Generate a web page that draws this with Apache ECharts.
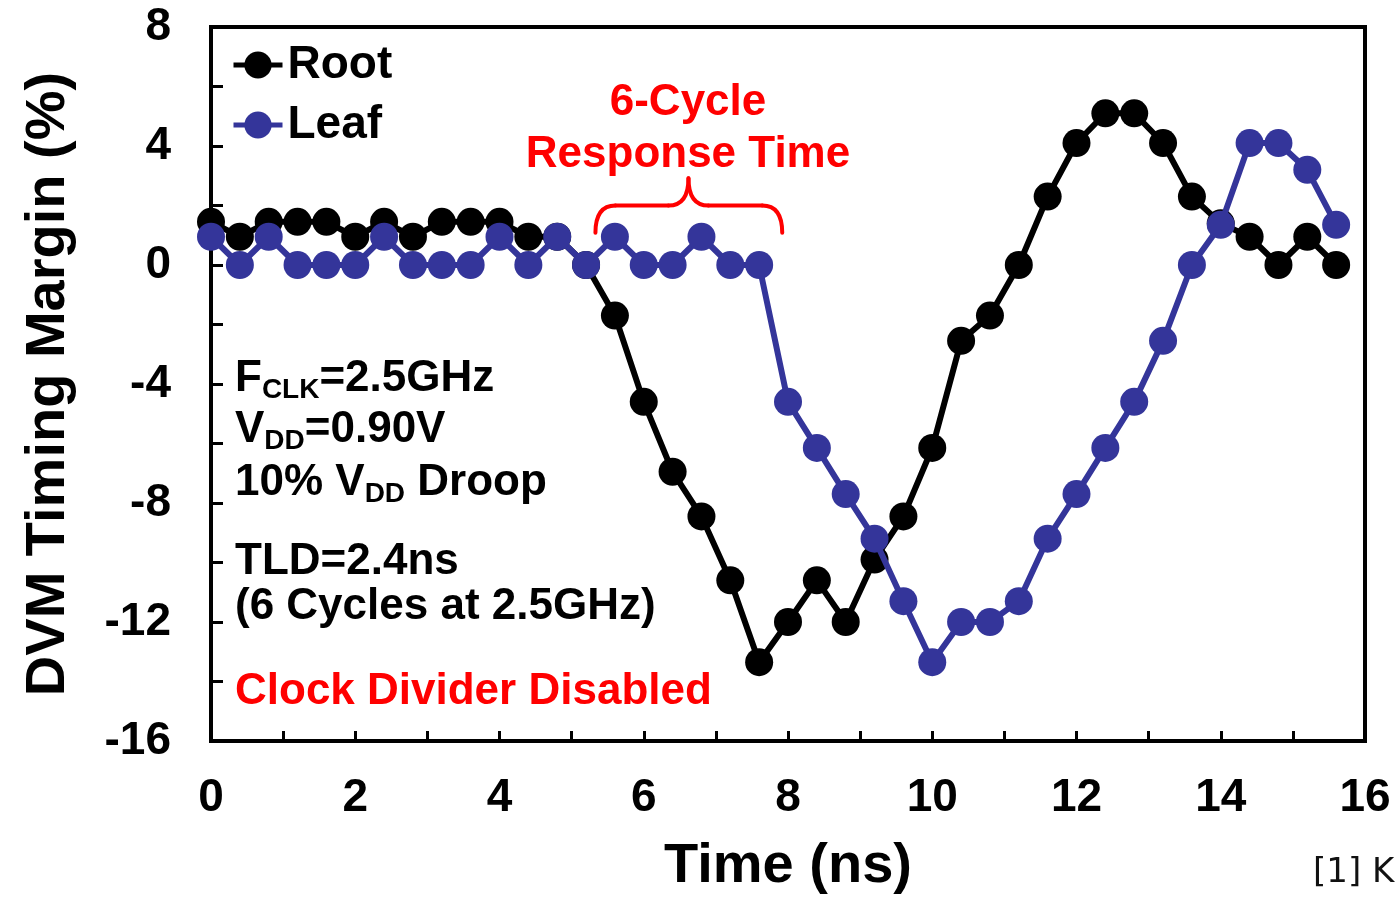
<!DOCTYPE html>
<html>
<head>
<meta charset="utf-8">
<script src="https://cdn.jsdelivr.net/npm/echarts@6/dist/echarts.min.js"></script>
<style>
  html, body { margin: 0; padding: 0; background: #fff; }
  #chart { width: 1399px; height: 897px; }
</style>
</head>
<body>
<div id="chart"></div>
<script>
// Sample times (ns), one sample per 0.4 ns clock cycle at 2.5 GHz
const timeNs = [0, 0.4, 0.8, 1.2, 1.6, 2.0, 2.4, 2.8, 3.2, 3.6,
                4.0, 4.4, 4.8, 5.2, 5.6, 6.0, 6.4, 6.8, 7.2, 7.6,
                8.0, 8.4, 8.8, 9.2, 9.6, 10.0, 10.4, 10.8, 11.2, 11.6,
                12.0, 12.4, 12.8, 13.2, 13.6, 14.0, 14.4, 14.8, 15.2, 15.6];

// DVM timing margin (%) measured at the clock root
const rootMargin = [1.45, 0.95, 1.45, 1.45, 1.45, 0.95, 1.45, 0.95, 1.45, 1.45,
                    1.45, 0.95, 0.95, 0, -1.7, -4.6, -6.95, -8.45, -10.6, -13.35,
                    -12.0, -10.6, -12.0, -9.9, -8.45, -6.15, -2.55, -1.7, 0, 2.3,
                    4.1, 5.1, 5.1, 4.1, 2.3, 1.4, 0.95, 0, 0.95, 0];

// DVM timing margin (%) measured at the clock leaf
const leafMargin = [0.95, 0, 0.95, 0, 0, 0, 0.95, 0, 0, 0,
                    0.95, 0, 0.95, 0, 0.95, 0, 0, 0.95, 0, 0,
                    -4.6, -6.15, -7.7, -9.2, -11.3, -13.35, -12.0, -12.0, -11.3, -9.2,
                    -7.7, -6.15, -4.6, -2.55, 0, 1.35, 4.1, 4.1, 3.2, 1.35];

const seriesNames = ['Root', 'Leaf'];
const xTickLabels = [0, 2, 4, 6, 8, 10, 12, 14, 16];
const yTickLabels = [-16, -12, -8, -4, 0, 4, 8];

// Bracket over the leaf response window, in data units (time, margin)
const bracket = { t0: 5.33, t1: 7.92, tMid: 6.62, yEnd: 1.08, yBar: 2.0, yTip: 2.92 };

const FONT = '"Liberation Sans", Arial, Helvetica, sans-serif';
const BLACK = '#000000';
const BLUE = '#34359a';
const RED = '#ff0000';

const toPairs = (xs, ys) => xs.map((x, i) => [x, ys[i]]);

const chart = echarts.init(document.getElementById('chart'), null, { renderer: 'canvas' });

function lineSeries(name, values, color, z) {
  return {
    name: name,
    type: 'line',
    data: toPairs(timeNs, values),
    symbol: 'circle',
    symbolSize: 28,
    showAllSymbol: true,
    clip: false,
    z: z,
    lineStyle: { color: color, width: 6 },
    itemStyle: { color: color, borderWidth: 0 },
    emphasis: { disabled: true }
  };
}

chart.setOption({
  animation: false,
  backgroundColor: '#ffffff',
  grid: {
    left: 211, right: 34, top: 27, bottom: 156,
    outerBoundsMode: 'none', containLabel: false,
    show: true, borderColor: BLACK, borderWidth: 4, backgroundColor: 'transparent'
  },
  legend: {
    data: seriesNames,
    orient: 'vertical',
    left: 231, top: 42, padding: 0,
    itemWidth: 49, itemHeight: 34, itemGap: 14,
    lineStyle: { width: 5 },
    textStyle: { fontFamily: FONT, fontSize: 46, fontWeight: 'bold', color: BLACK },
    selectedMode: false
  },
  xAxis: {
    type: 'value',
    min: xTickLabels[0], max: xTickLabels[xTickLabels.length - 1], interval: 2,
    name: 'Time (ns)', nameLocation: 'middle', nameGap: 98,
    nameTextStyle: { fontFamily: FONT, fontSize: 56, fontWeight: 'bold', color: BLACK },
    axisLine: { show: true, onZero: false, lineStyle: { color: BLACK, width: 4 } },
    axisTick: { show: true, inside: true, length: 10, lineStyle: { color: BLACK, width: 3 } },
    minorTick: { show: true, splitNumber: 2, length: 10, lineStyle: { color: BLACK, width: 3 } },
    splitLine: { show: false },
    axisLabel: { margin: 34, fontFamily: FONT, fontSize: 46, fontWeight: 'bold', color: BLACK }
  },
  yAxis: {
    type: 'value',
    min: yTickLabels[0], max: yTickLabels[yTickLabels.length - 1], interval: 4,
    name: 'DVM Timing Margin (%)', nameLocation: 'middle', nameGap: 134,
    nameTextStyle: { fontFamily: FONT, fontSize: 56, fontWeight: 'bold', color: BLACK },
    axisLine: { show: true, onZero: false, lineStyle: { color: BLACK, width: 4 } },
    axisTick: { show: true, inside: true, length: 12, lineStyle: { color: BLACK, width: 3 } },
    minorTick: { show: true, splitNumber: 2, length: 12, lineStyle: { color: BLACK, width: 3 } },
    splitLine: { show: false },
    axisLabel: { margin: 40, fontFamily: FONT, fontSize: 46, fontWeight: 'bold', color: BLACK }
  },
  series: [
    lineSeries(seriesNames[0], rootMargin, BLACK, 2),
    lineSeries(seriesNames[1], leafMargin, BLUE, 3)
  ]
});

// Rich-text styles for the condition notes (with subscripts)
const noteRich = {
  b: { fontFamily: FONT, fontSize: 44, fontWeight: 'bold', fill: BLACK, lineHeight: 50 },
  s: { fontFamily: FONT, fontSize: 28, fontWeight: 'bold', fill: BLACK, lineHeight: 22, verticalAlign: 'bottom' },
  r: { fontFamily: FONT, fontSize: 44, fontWeight: 'bold', fill: RED, lineHeight: 50 }
};

function note(text, top) {
  return {
    type: 'text', x: 235, y: top, z: 10,
    style: { text: text, rich: noteRich, align: 'left', verticalAlign: 'top',
             fontFamily: FONT, fontSize: 44, fontWeight: 'bold' }
  };
}

// Curly bracket pieces built from data coordinates
const px = (t, v) => chart.convertToPixel({ gridIndex: 0 }, [t, v]);
const L = px(bracket.t0, bracket.yEnd);
const R = px(bracket.t1, bracket.yEnd);
const barY = px(bracket.t0, bracket.yBar)[1];
const tip = px(bracket.tMid, bracket.yTip);
const rc = 20;
const braceStyle = { fill: null, stroke: RED, lineWidth: 4, lineCap: 'round' };
const curve = (x1, y1, cx, cy, x2, y2) => ({
  type: 'bezierCurve', z: 10,
  shape: { x1: x1, y1: y1, cpx1: cx, cpy1: cy, x2: x2, y2: y2 },
  style: braceStyle
});
const seg = (x1, y1, x2, y2) => ({
  type: 'line', z: 10,
  shape: { x1: x1, y1: y1, x2: x2, y2: y2 },
  style: braceStyle
});

chart.setOption({
  graphic: [
    note('{b|F}{s|CLK}{b|=2.5GHz}', 354),
    note('{b|V}{s|DD}{b|=0.90V}', 405),
    note('{b|10% V}{s|DD}{b| Droop}', 458),
    note('{b|TLD=2.4ns}', 537),
    note('{b|(6 Cycles at 2.5GHz)}', 582),
    note('{r|Clock Divider Disabled}', 667),
    {
      type: 'text', x: 688, y: 77, z: 10,
      style: {
        text: '6-Cycle\nResponse Time',
        align: 'center', verticalAlign: 'top',
        fontFamily: FONT, fontSize: 44, fontWeight: 'bold', fill: RED, lineHeight: 52
      }
    },
    curve(L[0], L[1], L[0], barY, L[0] + rc, barY),
    seg(L[0] + rc, barY, tip[0] - rc, barY),
    curve(tip[0] - rc, barY, tip[0], barY, tip[0], tip[1]),
    curve(tip[0], tip[1], tip[0], barY, tip[0] + rc, barY),
    seg(tip[0] + rc, barY, R[0] - rc, barY),
    curve(R[0] - rc, barY, R[0], barY, R[0], R[1]),
    {
      type: 'text', x: 1313, y: 856, z: 10,
      style: { text: '[1] K', align: 'left', verticalAlign: 'top',
               fontFamily: '"DejaVu Sans", Verdana, sans-serif', fontSize: 34, fill: '#111111' }
    }
  ]
});
</script>
</body>
</html>
